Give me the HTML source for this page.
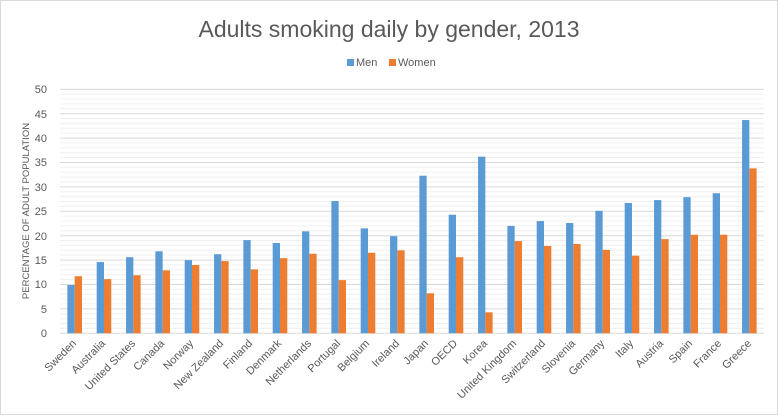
<!DOCTYPE html>
<html><head><meta charset="utf-8"><style>
html,body{margin:0;padding:0;background:#fff;}
svg{display:block;font-family:"Liberation Sans",sans-serif;}
</style></head><body>
<svg width="778" height="416" viewBox="0 0 778 416">
<rect x="0.5" y="0.5" width="777" height="414" fill="#fff" stroke="#d9d9d9"/>
<text x="389" y="37" text-anchor="middle" font-size="23" fill="#595959">Adults smoking daily by gender, 2013</text>
<rect x="347" y="59" width="7" height="7" fill="#5b9bd5"/>
<text x="356" y="66" font-size="11" fill="#595959">Men</text>
<rect x="389" y="59" width="7" height="7" fill="#ed7d31"/>
<text x="398" y="66" font-size="11" fill="#595959">Women</text>
<g stroke="#f0f0f0" stroke-width="1">
<path d="M60 328.4H764M60 323.5H764M60 318.7H764M60 313.8H764M60 303.9H764M60 299.1H764M60 294.2H764M60 289.3H764M60 279.5H764M60 274.7H764M60 269.8H764M60 264.9H764M60 255.1H764M60 250.3H764M60 245.4H764M60 240.5H764M60 230.7H764M60 225.9H764M60 221.0H764M60 216.1H764M60 206.3H764M60 201.5H764M60 196.6H764M60 191.7H764M60 181.9H764M60 177.1H764M60 172.2H764M60 167.3H764M60 157.5H764M60 152.7H764M60 147.8H764M60 142.9H764M60 133.1H764M60 128.3H764M60 123.4H764M60 118.5H764M60 108.7H764M60 103.9H764M60 99.0H764M60 94.1H764"/>
</g>
<g stroke="#d9d9d9" stroke-width="1">
<path d="M60 333.3H764M60 308.9H764M60 284.5H764M60 260.1H764M60 235.7H764M60 211.3H764M60 186.9H764M60 162.5H764M60 138.1H764M60 113.7H764M60 89.3H764"/>
</g>
<g font-size="11" fill="#595959" text-anchor="end">
<text x="47" y="337">0</text><text x="47" y="313">5</text><text x="47" y="288">10</text><text x="47" y="264">15</text><text x="47" y="240">20</text><text x="47" y="215">25</text><text x="47" y="191">30</text><text x="47" y="166">35</text><text x="47" y="142">40</text><text x="47" y="118">45</text><text x="47" y="93">50</text>
</g>
<text transform="translate(29,211) rotate(-90)" text-anchor="middle" font-size="9.5" fill="#595959">PERCENTAGE OF ADULT POPULATION</text>
<g id="bars">
<g transform="translate(74.67,333.3) scale(1,-4.88)"><rect x="-7.3" y="0" width="7.3" height="9.9" fill="#5b9bd5"/><rect x="0" y="0" width="7.3" height="11.7" fill="#ed7d31"/></g>
<g transform="translate(104,333.3) scale(1,-4.88)"><rect x="-7.3" y="0" width="7.3" height="14.6" fill="#5b9bd5"/><rect x="0" y="0" width="7.3" height="11.1" fill="#ed7d31"/></g>
<g transform="translate(133.33,333.3) scale(1,-4.88)"><rect x="-7.3" y="0" width="7.3" height="15.6" fill="#5b9bd5"/><rect x="0" y="0" width="7.3" height="11.9" fill="#ed7d31"/></g>
<g transform="translate(162.67,333.3) scale(1,-4.88)"><rect x="-7.3" y="0" width="7.3" height="16.8" fill="#5b9bd5"/><rect x="0" y="0" width="7.3" height="12.9" fill="#ed7d31"/></g>
<g transform="translate(192,333.3) scale(1,-4.88)"><rect x="-7.3" y="0" width="7.3" height="15" fill="#5b9bd5"/><rect x="0" y="0" width="7.3" height="14" fill="#ed7d31"/></g>
<g transform="translate(221.33,333.3) scale(1,-4.88)"><rect x="-7.3" y="0" width="7.3" height="16.2" fill="#5b9bd5"/><rect x="0" y="0" width="7.3" height="14.8" fill="#ed7d31"/></g>
<g transform="translate(250.67,333.3) scale(1,-4.88)"><rect x="-7.3" y="0" width="7.3" height="19.1" fill="#5b9bd5"/><rect x="0" y="0" width="7.3" height="13.1" fill="#ed7d31"/></g>
<g transform="translate(280,333.3) scale(1,-4.88)"><rect x="-7.3" y="0" width="7.3" height="18.5" fill="#5b9bd5"/><rect x="0" y="0" width="7.3" height="15.4" fill="#ed7d31"/></g>
<g transform="translate(309.33,333.3) scale(1,-4.88)"><rect x="-7.3" y="0" width="7.3" height="20.9" fill="#5b9bd5"/><rect x="0" y="0" width="7.3" height="16.3" fill="#ed7d31"/></g>
<g transform="translate(338.67,333.3) scale(1,-4.88)"><rect x="-7.3" y="0" width="7.3" height="27.1" fill="#5b9bd5"/><rect x="0" y="0" width="7.3" height="10.9" fill="#ed7d31"/></g>
<g transform="translate(368,333.3) scale(1,-4.88)"><rect x="-7.3" y="0" width="7.3" height="21.5" fill="#5b9bd5"/><rect x="0" y="0" width="7.3" height="16.5" fill="#ed7d31"/></g>
<g transform="translate(397.33,333.3) scale(1,-4.88)"><rect x="-7.3" y="0" width="7.3" height="19.9" fill="#5b9bd5"/><rect x="0" y="0" width="7.3" height="17" fill="#ed7d31"/></g>
<g transform="translate(426.67,333.3) scale(1,-4.88)"><rect x="-7.3" y="0" width="7.3" height="32.3" fill="#5b9bd5"/><rect x="0" y="0" width="7.3" height="8.2" fill="#ed7d31"/></g>
<g transform="translate(456,333.3) scale(1,-4.88)"><rect x="-7.3" y="0" width="7.3" height="24.3" fill="#5b9bd5"/><rect x="0" y="0" width="7.3" height="15.6" fill="#ed7d31"/></g>
<g transform="translate(485.33,333.3) scale(1,-4.88)"><rect x="-7.3" y="0" width="7.3" height="36.2" fill="#5b9bd5"/><rect x="0" y="0" width="7.3" height="4.3" fill="#ed7d31"/></g>
<g transform="translate(514.67,333.3) scale(1,-4.88)"><rect x="-7.3" y="0" width="7.3" height="22" fill="#5b9bd5"/><rect x="0" y="0" width="7.3" height="18.9" fill="#ed7d31"/></g>
<g transform="translate(544,333.3) scale(1,-4.88)"><rect x="-7.3" y="0" width="7.3" height="23" fill="#5b9bd5"/><rect x="0" y="0" width="7.3" height="17.9" fill="#ed7d31"/></g>
<g transform="translate(573.33,333.3) scale(1,-4.88)"><rect x="-7.3" y="0" width="7.3" height="22.6" fill="#5b9bd5"/><rect x="0" y="0" width="7.3" height="18.3" fill="#ed7d31"/></g>
<g transform="translate(602.67,333.3) scale(1,-4.88)"><rect x="-7.3" y="0" width="7.3" height="25.1" fill="#5b9bd5"/><rect x="0" y="0" width="7.3" height="17.1" fill="#ed7d31"/></g>
<g transform="translate(632,333.3) scale(1,-4.88)"><rect x="-7.3" y="0" width="7.3" height="26.7" fill="#5b9bd5"/><rect x="0" y="0" width="7.3" height="15.9" fill="#ed7d31"/></g>
<g transform="translate(661.33,333.3) scale(1,-4.88)"><rect x="-7.3" y="0" width="7.3" height="27.3" fill="#5b9bd5"/><rect x="0" y="0" width="7.3" height="19.3" fill="#ed7d31"/></g>
<g transform="translate(690.67,333.3) scale(1,-4.88)"><rect x="-7.3" y="0" width="7.3" height="27.9" fill="#5b9bd5"/><rect x="0" y="0" width="7.3" height="20.2" fill="#ed7d31"/></g>
<g transform="translate(720,333.3) scale(1,-4.88)"><rect x="-7.3" y="0" width="7.3" height="28.7" fill="#5b9bd5"/><rect x="0" y="0" width="7.3" height="20.2" fill="#ed7d31"/></g>
<g transform="translate(749.33,333.3) scale(1,-4.88)"><rect x="-7.3" y="0" width="7.3" height="43.7" fill="#5b9bd5"/><rect x="0" y="0" width="7.3" height="33.8" fill="#ed7d31"/></g>
</g>
<g font-size="11" fill="#595959" text-anchor="end">
<text transform="translate(77,344) rotate(-45)">Sweden</text>
<text transform="translate(106,344) rotate(-45)">Australia</text>
<text transform="translate(136,344) rotate(-45)">United States</text>
<text transform="translate(165,344) rotate(-45)">Canada</text>
<text transform="translate(194,344) rotate(-45)">Norway</text>
<text transform="translate(224,344) rotate(-45)">New Zealand</text>
<text transform="translate(253,344) rotate(-45)">Finland</text>
<text transform="translate(282,344) rotate(-45)">Denmark</text>
<text transform="translate(312,344) rotate(-45)">Netherlands</text>
<text transform="translate(341,344) rotate(-45)">Portugal</text>
<text transform="translate(370,344) rotate(-45)">Belgium</text>
<text transform="translate(400,344) rotate(-45)">Ireland</text>
<text transform="translate(429,344) rotate(-45)">Japan</text>
<text transform="translate(458,344) rotate(-45)">OECD</text>
<text transform="translate(488,344) rotate(-45)">Korea</text>
<text transform="translate(517,344) rotate(-45)">United Kingdom</text>
<text transform="translate(546,344) rotate(-45)">Switzerland</text>
<text transform="translate(576,344) rotate(-45)">Slovenia</text>
<text transform="translate(605,344) rotate(-45)">Germany</text>
<text transform="translate(634,344) rotate(-45)">Italy</text>
<text transform="translate(664,344) rotate(-45)">Austria</text>
<text transform="translate(693,344) rotate(-45)">Spain</text>
<text transform="translate(722,344) rotate(-45)">France</text>
<text transform="translate(752,344) rotate(-45)">Greece</text>
</g>
</svg>
</body></html>
